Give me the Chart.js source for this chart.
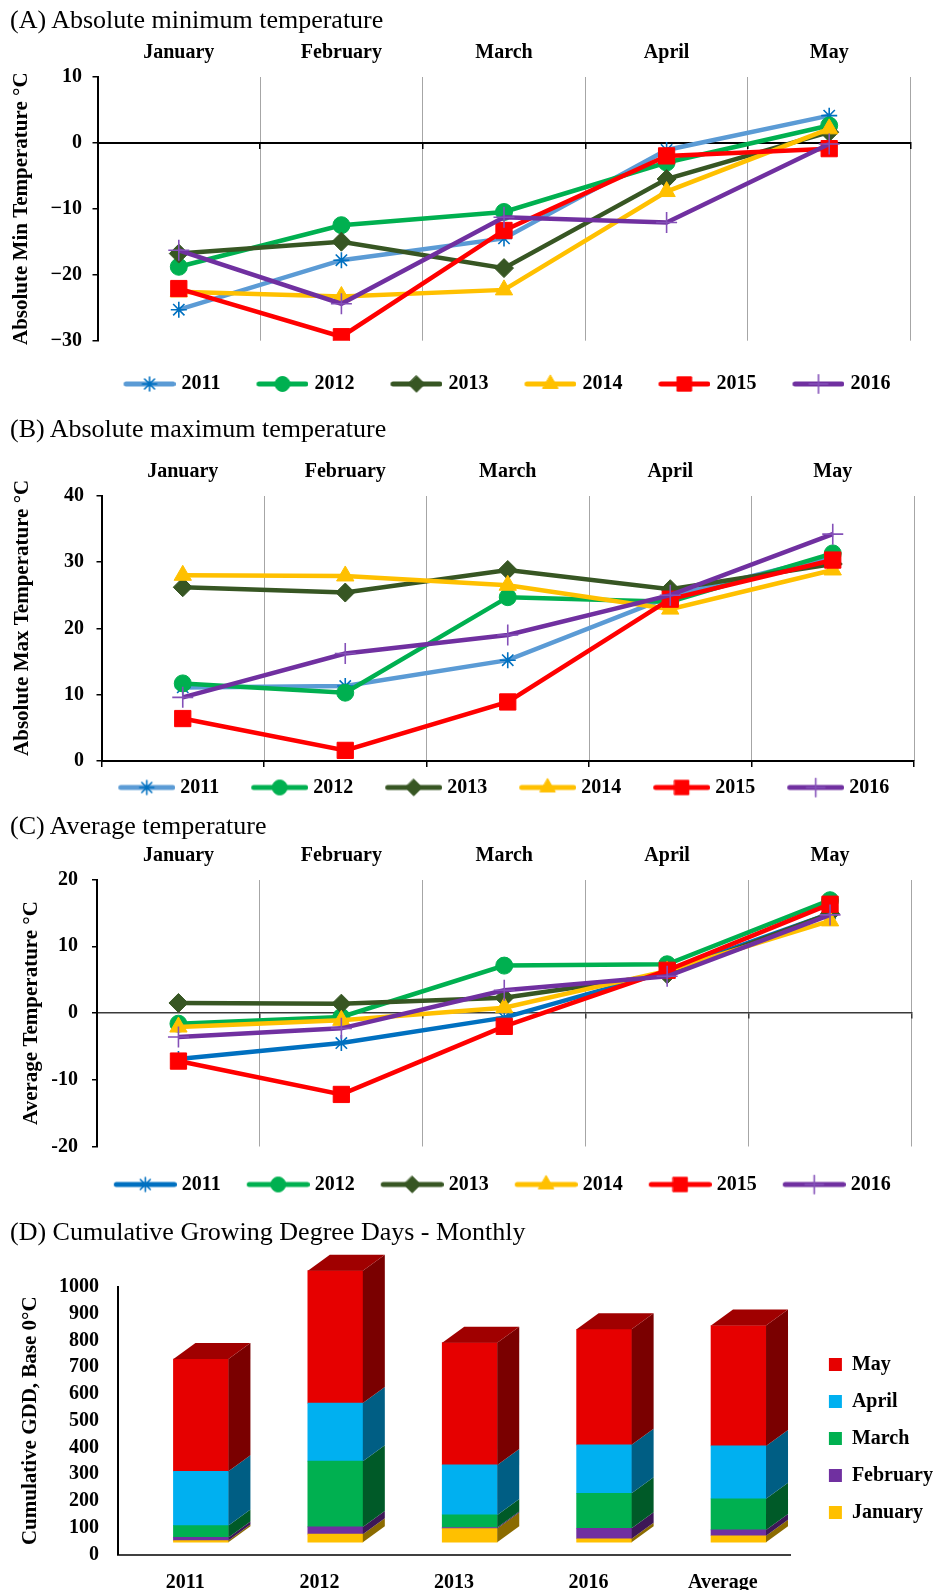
<!DOCTYPE html>
<html><head><meta charset="utf-8">
<script src="https://cdn.jsdelivr.net/npm/chart.js@4.4.1/dist/chart.umd.min.js"></script>
<style>
html,body{margin:0;padding:0;background:#fff;}
#wrap{position:relative;width:943px;height:1594px;overflow:hidden;background:#fff;}
canvas{position:absolute;left:0;}
.ttl{position:absolute;left:10px;font-family:'Liberation Serif','Times New Roman',serif;font-size:26px;line-height:26px;color:#000;white-space:nowrap;}
</style></head><body>
<div id="wrap">
<canvas id="cA" width="943" height="404" style="top:0px"></canvas>
<canvas id="cB" width="943" height="404" style="top:404px"></canvas>
<canvas id="cC" width="943" height="397" style="top:808px"></canvas>
<canvas id="cD" width="943" height="389" style="top:1205px"></canvas>
<div class="ttl" style="top:7px">(A) Absolute minimum temperature</div>
<div class="ttl" style="top:415.5px">(B) Absolute maximum temperature</div>
<div class="ttl" style="top:812.5px">(C) Average temperature</div>
<div class="ttl" style="top:1218.5px">(D) Cumulative Growing Degree Days - Monthly</div>
</div>
<script>
// ---------- DATA ----------
const months = ['January', 'February', 'March', 'April', 'May'];
const years = ['2011', '2012', '2013', '2014', '2015', '2016'];

// (A) Absolute minimum temperature
const minT_2011 = [-25.3, -17.8, -14.5, -1.1, 4.1];
const minT_2012 = [-18.8, -12.5, -10.5, -3.0, 2.6];
const minT_2013 = [-16.8, -15.0, -19.0, -5.5, 1.6];
const minT_2014 = [-22.6, -23.3, -22.3, -7.4, 2.1];
const minT_2015 = [-22.1, -29.4, -13.3, -2.0, -0.9];
const minT_2016 = [-16.3, -24.4, -11.3, -12.1, -0.2];

// (B) Absolute maximum temperature
const maxT_2011 = [11.1, 11.3, 15.2, 24.8, 30.9];
const maxT_2012 = [11.7, 10.3, 24.7, 24.0, 31.3];
const maxT_2013 = [26.2, 25.4, 28.8, 25.9, 29.7];
const maxT_2014 = [28.0, 27.9, 26.5, 22.9, 28.8];
const maxT_2015 = [6.4, 1.6, 8.9, 24.4, 30.3];
const maxT_2016 = [9.6, 16.2, 19.0, 25.0, 34.2];

// (C) Average temperature
const avgT_2011 = [-6.9, -4.5, -0.7, 6.2, 14.9];
const avgT_2012 = [-1.6, -0.6, 7.1, 7.3, 16.9];
const avgT_2013 = [1.5, 1.4, 2.3, 5.8, 14.9];
const avgT_2014 = [-2.1, -1.1, 0.8, 6.3, 13.8];
const avgT_2015 = [-7.2, -12.2, -2.0, 6.4, 16.3];
const avgT_2016 = [-3.6, -2.3, 3.4, 5.5, 14.7];

// (D) Cumulative GDD (monthly contributions, stacked)
const gddCategories = ['2011', '2012', '2013', '2016', 'Average'];
const gddJanuary  = [6, 30, 51, 13, 24];
const gddFebruary = [12, 27, 4, 39, 22];
const gddMarch    = [44, 246, 47, 131, 116];
const gddApril    = [203, 217, 187, 181, 198];
const gddMay      = [420, 495, 457, 432, 450];

const minTicks = [-30, -20, -10, 0, 10];
const maxTicks = [0, 10, 20, 30, 40];
const avgTicks = [-20, -10, 0, 10, 20];
const gddTicks = [0, 100, 200, 300, 400, 500, 600, 700, 800, 900, 1000];

// ---------- STYLE ----------
Chart.defaults.font.family = "'Liberation Serif', 'Times New Roman', serif";
Chart.defaults.color = '#000';
const W = 943;
const FONT = "'Liberation Serif', 'Times New Roman', serif";

const seriesStyle = [
  {line: '#5B9BD5', mark: '#0070C0', shape: 'star', r: 8, fill: false},
  {line: '#00B050', mark: '#00B050', shape: 'circle', r: 8.5, fill: true},
  {line: '#375623', mark: '#375623', shape: 'rectRot', r: 9.5, fill: true},
  {line: '#FFC000', mark: '#FFC000', shape: 'triangle', r: 10, fill: true},
  {line: '#FF0000', mark: '#FF0000', shape: 'rect', r: 11.5, fill: true},
  {line: '#7030A0', mark: '#8450B8', shape: 'cross', r: 10.5, fill: false}
];

const mctx = document.createElement('canvas').getContext('2d');
function measure(txt) { mctx.font = "bold 20px " + FONT; return mctx.measureText(txt).width; }

function paintMarker(g, st, x, y, r) {
  g.save();
  g.beginPath();
  switch (st.shape) {
    case 'circle': g.arc(x, y, r, 0, Math.PI * 2); break;
    case 'rectRot': g.moveTo(x, y - r); g.lineTo(x + r, y); g.lineTo(x, y + r); g.lineTo(x - r, y); g.closePath(); break;
    case 'triangle':
      for (let k = 0; k < 3; k++) { const a = k * 2 * Math.PI / 3; const px = x + Math.sin(a) * r, py = y - Math.cos(a) * r; if (k) g.lineTo(px, py); else g.moveTo(px, py); }
      g.closePath(); break;
    case 'rect': { const h = r * Math.SQRT1_2; g.rect(x - h, y - h, 2 * h, 2 * h); } break;
    case 'star':
      for (let k = 0; k < 4; k++) { const a = k * Math.PI / 4; g.moveTo(x + Math.cos(a) * r, y + Math.sin(a) * r); g.lineTo(x - Math.cos(a) * r, y - Math.sin(a) * r); }
      break;
    case 'cross': g.moveTo(x, y - r); g.lineTo(x, y + r); g.moveTo(x - r, y); g.lineTo(x + r, y); break;
  }
  if (st.fill) { g.fillStyle = st.mark; g.fill(); }
  g.strokeStyle = st.mark; g.lineWidth = st.fill ? 1 : 1.6; g.stroke();
  g.restore();
}

function makeLegend(spec, styles) {
  const tw = measure('2011'), sw = measure(' ');
  const p = 0;
  const total = spec.s - spec.L - 2 * spec.g + 10 - tw - p;
  const diff = 2 * spec.d + 10 - spec.g;
  const nsp = Math.max(0, Math.round((total - diff) / 2 / sw));
  const t = nsp * sw;
  const a = Math.max(0, total - t);
  const Wc = Math.round(spec.L + a);
  const aEff = Wc - spec.L;
  const bw = Wc + 2 * spec.g - 20;
  const pad = ' '.repeat(nsp);
  const icons = styles.map(st => {
    const c = document.createElement('canvas');
    c.width = Wc; c.height = 24;
    const g = c.getContext('2d');
    g.strokeStyle = st.line; g.lineWidth = 5; g.lineCap = 'round';
    g.beginPath(); g.moveTo(aEff + 2.5, 12); g.lineTo(aEff + spec.L - 2.5, 12); g.stroke();
    paintMarker(g, st, aEff + spec.L / 2, 12, st.r * 0.88);
    return c;
  });
  return {
    position: 'bottom', fullSize: false, align: 'center', onClick: null,
    labels: {
      usePointStyle: true, pointStyleWidth: bw, padding: p,
      font: {size: 20, weight: 'bold'}, color: '#000',
      generateLabels: (chart) => chart.data.datasets.map((ds, i) => ({
        text: ds.label + pad, pointStyle: icons[i],
        fillStyle: 'rgba(0,0,0,0)', strokeStyle: 'rgba(0,0,0,0)', lineWidth: 0,
        hidden: false, datasetIndex: i, fontColor: '#000'
      }))
    }
  };
}

function lineChart(id, series, spec) {
  const styles = seriesStyle.map((s, i) => (i === 0 && spec.firstLine) ? Object.assign({}, s, {line: spec.firstLine}) : s);
  const datasets = series.map((vals, i) => {
    const st = styles[i];
    return {
      label: years[i], data: vals, borderColor: st.line, backgroundColor: st.line,
      borderWidth: 4.5, tension: 0, fill: false, order: 6 - i,
      pointStyle: st.shape, pointRadius: st.r, pointHoverRadius: st.r,
      pointBackgroundColor: st.fill ? st.mark : 'rgba(0,0,0,0)',
      pointBorderColor: st.mark, pointBorderWidth: st.fill ? 1 : 1.6
    };
  });
  return new Chart(document.getElementById(id), {
    type: 'line',
    data: {labels: months, datasets},
    options: {
      responsive: false, animation: false, devicePixelRatio: 1,
      layout: {padding: {left: 0, right: W - spec.right, top: 0, bottom: spec.pb}},
      plugins: {legend: makeLegend(spec.legend, styles), tooltip: {enabled: false}},
      scales: {
        x: {
          type: 'category', position: 'top', offset: true,
          grid: {offset: true, drawTicks: false, color: (c) => c.index === 0 ? 'rgba(0,0,0,0)' : '#A6A6A6', lineWidth: 1},
          border: {display: false},
          ticks: {padding: 12, font: {size: 20, weight: 'bold'}, color: '#000', maxRotation: 0, autoSkip: false},
          afterFit: (s) => { s.height = spec.top; }
        },
        x0: {
          type: 'category', position: {y: 0}, offset: true,
          grid: {offset: true, drawOnChartArea: false, drawTicks: true, tickLength: 5, color: spec.zeroColor, lineWidth: 1.5},
          border: {color: spec.zeroColor, width: spec.zeroWidth},
          ticks: {display: false}
        },
        xs: {
          type: 'category', position: 'bottom',
          grid: {display: false, drawTicks: false}, border: {display: false}, ticks: {display: false},
          afterFit: (s) => { s.height = spec.spacer; }
        },
        y: {
          type: 'linear', position: 'left', min: spec.ticks[0], max: spec.ticks[spec.ticks.length - 1],
          afterBuildTicks: (s) => { s.ticks = spec.ticks.map(v => ({value: v})); },
          ticks: {padding: spec.tickPad, font: {size: 20, weight: 'bold'}, color: '#000', callback: spec.fmt, autoSkip: false},
          grid: {drawOnChartArea: false, drawTicks: true, tickLength: 5, color: '#000', lineWidth: 1.5},
          border: {color: '#000', width: 2},
          title: {display: true, text: spec.title, font: {size: 21, weight: 'bold'}, color: '#000', padding: {top: spec.titlePad, bottom: 0}},
          afterFit: (s) => { s.width = spec.left; }
        }
      }
    }
  });
}

const minusFmt = (v) => v < 0 ? '\u2212' + Math.abs(v) : String(v);
const plainFmt = (v) => String(v);

lineChart('cA', [minT_2011, minT_2012, minT_2013, minT_2014, minT_2015, minT_2016], {
  left: 97.5, right: 910.5, top: 76.7, spacer: 33.3, pb: 0,
  ticks: minTicks, tickPad: 10.5, fmt: minusFmt, titlePad: 9.4,
  title: 'Absolute Min Temperature \u00B0C', zeroColor: '#000', zeroWidth: 2,
  legend: {L: 52, g: 6, d: 2.5, s: 133}
});
lineChart('cB', [maxT_2011, maxT_2012, maxT_2013, maxT_2014, maxT_2015, maxT_2016], {
  left: 101.5, right: 914, top: 91.7, spacer: 16.5, pb: 0.5,
  ticks: maxTicks, tickPad: 12.5, fmt: plainFmt, titlePad: 9.9,
  title: '    Absolute Max Temperature \u00B0C', zeroColor: '#000', zeroWidth: 2,
  legend: {L: 57, g: 5, d: -1.75, s: 133}
});
lineChart('cC', [avgT_2011, avgT_2012, avgT_2013, avgT_2014, avgT_2015, avgT_2016], {
  left: 97, right: 911.5, top: 71.5, spacer: 28, pb: 0.5, firstLine: '#0070C0',
  ticks: avgTicks, tickPad: 14, fmt: plainFmt, titlePad: 18.9,
  title: 'Average Temperature \u00B0C', zeroColor: '#3A3A3A', zeroWidth: 1.5,
  legend: {L: 63, g: 5, d: -0.75, s: 133}
});

// ---------- (D) 3D-look stacked bars ----------
const gddSeries = [gddJanuary, gddFebruary, gddMarch, gddApril, gddMay];
const gddFront = ['#FFC000', '#7030A0', '#00B050', '#00B0F0', '#E60000'];
const gddSide  = ['#8B6B00', '#3D1757', '#005A28', '#005E84', '#7A0000'];
const gddTop   = ['#B38600', '#55247A', '#007A38', '#0080B0', '#A00000'];

const bar3d = {
  id: 'bar3d',
  afterDatasetsDraw(chart, args, opts) {
    const ctx = chart.ctx, dx = opts.dx, dy = opts.dy;
    const n = chart.data.datasets.length;
    ctx.save();
    chart.data.datasets.forEach((ds, di) => {
      const meta = chart.getDatasetMeta(di);
      meta.data.forEach((bar) => {
        const p = bar.getProps(['x', 'y', 'base', 'width'], true);
        const l = p.x - p.width / 2, r = p.x + p.width / 2;
        const top = Math.min(p.y, p.base), bot = Math.max(p.y, p.base);
        ctx.fillStyle = ds.sideColor;
        ctx.beginPath();
        ctx.moveTo(r, bot); ctx.lineTo(r + dx, bot - dy); ctx.lineTo(r + dx, top - dy); ctx.lineTo(r, top);
        ctx.closePath(); ctx.fill();
        if (di === n - 1) {
          ctx.fillStyle = ds.topColor;
          ctx.beginPath();
          ctx.moveTo(l, top); ctx.lineTo(l + dx, top - dy); ctx.lineTo(r + dx, top - dy); ctx.lineTo(r, top);
          ctx.closePath(); ctx.fill();
        }
      });
    });
    ctx.restore();
  }
};

const dLegendW = 17 + 13 + 10 + measure('February') + 10;
const dPadRight = Math.max(0, W - 820 - dLegendW);

new Chart(document.getElementById('cD'), {
  type: 'bar',
  data: {
    labels: gddCategories,
    datasets: months.map((m, k) => ({
      label: m,
      data: gddSeries[k].map((v, i) => ({x: i, y: v})),
      backgroundColor: gddFront[k], sideColor: gddSide[k], topColor: gddTop[k],
      borderWidth: 0, barThickness: 55, xAxisID: 'xb', yAxisID: 'y', clip: false
    }))
  },
  options: {
    responsive: false, animation: false, devicePixelRatio: 1,
    layout: {padding: {left: 0, right: dPadRight, top: 82, bottom: 4}},
    plugins: {
      tooltip: {enabled: false},
      bar3d: {dx: 22, dy: 16},
      legend: {
        position: 'right', reverse: true, onClick: null,
        labels: {boxWidth: 13, boxHeight: 13, padding: 17, font: {size: 20, weight: 'bold'}, color: '#000'}
      }
    },
    scales: {
      x: {
        type: 'category', position: 'bottom', offset: true,
        grid: {display: false, drawTicks: false},
        border: {color: '#404040', width: 2},
        ticks: {padding: 16.5, font: {size: 20, weight: 'bold'}, color: '#000', maxRotation: 0, autoSkip: false},
        afterFit: (s) => { s.height = 35.5; }
      },
      xb: {type: 'linear', display: false, stacked: true, offset: false, bounds: 'data', grace: 0, min: -0.617, max: 4.383},
      y: {
        type: 'linear', position: 'right', stacked: true, min: -46, max: 954,
        grid: {display: false, drawTicks: false}, border: {display: false}, ticks: {display: false},
        afterFit: (s) => { s.width = Math.max(0, (W - dPadRight - s.chart.legend.width) - 790); }
      },
      y2: {
        type: 'linear', position: 'left', min: 0, max: 1000,
        afterBuildTicks: (s) => { s.ticks = gddTicks.map(v => ({value: v})); },
        ticks: {padding: 19, font: {size: 20, weight: 'bold'}, color: '#000', autoSkip: false, callback: (v) => String(v)},
        grid: {display: false, drawTicks: false},
        border: {color: '#000', width: 2},
        title: {display: true, text: 'Cumulative GDD, Base 0\u00B0C', font: {size: 21, weight: 'bold'}, color: '#000', padding: {top: 18.4, bottom: 0}},
        afterFit: (s) => { s.width = 118; }
      }
    }
  },
  plugins: [bar3d]
});
</script>
</body></html>
